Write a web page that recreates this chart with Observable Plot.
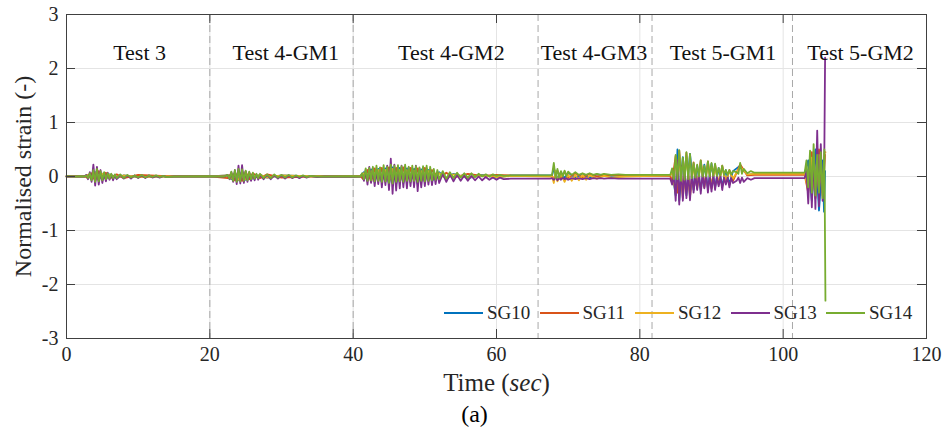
<!DOCTYPE html>
<html><head><meta charset="utf-8">
<script src="https://cdn.jsdelivr.net/npm/d3@7"></script>
<script src="https://cdn.jsdelivr.net/npm/@observablehq/plot@0.6"></script>
<style>
body{margin:0;background:#fff;}
#wrap{position:relative;width:947px;height:436px;font-family:"Liberation Serif",serif;}
#wrap svg{position:absolute;left:0;top:0;}
#legend{position:absolute;left:444px;top:302px;display:flex;font-size:19px;line-height:22px;color:#262626;}
.item{display:flex;align-items:center;width:95.5px;}
.sw{width:39px;height:0;border-top:2px solid;margin-right:4px;}
</style></head><body><div id="wrap"><div id="legend"></div></div>
<script>
// ---- data ----
const seriesNames = ["SG10","SG11","SG12","SG13","SG14"];
const seriesColors = ["#0072BD","#D95319","#EDB120","#7E2F8E","#77AC30"];
const xTicks = [0,20,40,60,80,100,120];
const yTicks = [-3,-2,-1,0,1,2,3];
const testBounds = [20,40,65.8,81.7,101.3];
const testLabels = ["Test 3","Test 4-GM1","Test 4-GM2","Test 4-GM3","Test 5-GM1","Test 5-GM2"];
const testLabelTimes = [10.2,30.6,53.7,73.6,91.6,110.8];
const testLabelLevel = 2.28;

const sg10 = [[0,0],[2.5,0],[3,.03],[3.5,-.05],[4,.08],[4.5,-.07],[5,.05],[5.5,-.05],[6,.04],[7,-.03],[8,.02],[10,-.01],[14,0],[20,0],
[22.5,.02],[23,-.05],[23.5,.07],[24,-.07],[24.5,.1],[25,-.06],[25.5,.06],[26,-.04],[27,.03],[28,-.02],[30,.02],[35,0],[41,0],
[41.5,.08],[42,-.08],[42.5,.13],[43,-.1],[43.5,.14],[44,-.1],[44.5,.15],[45,-.14],[45.5,.17],[46,-.14],[46.5,.16],[47,-.12],[47.5,.15],[48,-.1],[48.5,.14],[49,-.14],[49.5,.13],[50,-.1],[50.5,.12],[51,-.08],[52,.08],[53,-.05],[54,.05],[56,-.03],[58,.03],[60,-.02],[62,.02],[67.75,.02],
[68,.15],[68.5,-.04],[69,.08],[69.5,-.03],[70,.07],[71,-.02],[72,.05],[73,-.02],[74,.04],[76,.01],[78,.02],[84.25,.02],
[84.5,.1],[85,-.35],[85.25,.5],[85.5,-.45],[86,.36],[86.5,-.35],[87,.42],[87.5,-.25],[88,.2],[88.5,-.25],[89,.22],[89.5,-.22],[90,.24],[90.5,-.2],[91,.16],[91.5,-.18],[92,.12],[92.5,-.14],[93,.1],[94,.2],[95,.03],[96,.05],[103,.05],
[103.5,.3],[104,-.45],[104.5,.5],[105,-.63],[105.5,.3],[105.7,-.65],[105.85,.1]];

const sg11 = [[0,.005],[2.5,.005],[3,-.03],[3.5,.06],[4,-.08],[4.5,.1],[5,-.06],[5.5,.07],[6,-.04],[7,.04],[8,-.03],[10,.03],[14,.005],[20,.005],
[22.5,-.03],[23,.06],[23.5,-.07],[24,.1],[24.5,-.08],[25,.09],[25.5,-.05],[26,.06],[27,-.03],[28,.04],[30,-.02],[35,.005],[41,.005],
[41.5,-.06],[42,.12],[42.5,-.1],[43,.15],[43.5,-.08],[44,.16],[44.5,-.1],[45,.17],[45.5,-.12],[46,.16],[46.5,-.1],[47,.17],[47.5,-.1],[48,.16],[48.5,-.08],[49,.15],[49.5,-.1],[50,.16],[50.5,-.08],[51,.12],[52,-.04],[53,.07],[54,-.02],[56,.05],[58,.01],[60,.03],[62,.02],[67.75,.01],
[68,-.05],[68.5,.11],[69,-.04],[69.5,.09],[70,-.03],[71,.06],[72,-.02],[73,.05],[74,0],[76,.03],[78,.01],[84.25,.01],
[84.5,-.1],[85,.38],[85.25,-.3],[85.5,.48],[86,-.4],[86.5,.44],[87,-.38],[87.5,.26],[88,-.22],[88.5,.3],[89,-.2],[89.5,.28],[90,-.22],[90.5,.22],[91,-.15],[91.5,.2],[92,-.12],[92.5,.12],[93,-.08],[94,.22],[95,.02],[96,.03],[103,.03],
[103.5,-.3],[104,.45],[104.5,-.4],[105,.5],[105.5,-.3],[105.85,.4]];

const sg12 = [[0,0],[2.5,0],[3,.03],[3.5,-.05],[4,.07],[4.5,-.06],[5,.05],[5.5,-.04],[6,.03],[7,-.02],[8,.02],[10,-.01],[14,0],[20,0],
[22.5,.02],[23,-.04],[23.5,.06],[24,-.06],[24.5,.08],[25,-.05],[25.5,.05],[26,-.03],[27,.03],[28,-.02],[30,.02],[35,0],[41,0],
[41.5,.06],[42,-.06],[42.5,.1],[43,-.08],[43.5,.12],[44,-.08],[44.5,.12],[45,-.1],[45.5,.14],[46,-.1],[46.5,.12],[47,-.09],[47.5,.12],[48,-.08],[48.5,.11],[49,-.1],[49.5,.1],[50,-.08],[50.5,.1],[51,-.06],[52,.06],[53,-.04],[54,.04],[56,-.02],[58,.02],[60,-.01],[62,.01],[67.75,0],
[68,-.12],[68.25,.1],[68.5,-.09],[69,.05],[69.5,-.1],[70,.04],[70.5,-.08],[71,.03],[71.5,-.07],[72,.03],[72.5,-.06],[73,.02],[74,-.04],[75,.01],[76,-.02],[78,0],[84.25,.02],
[84.5,.08],[85,-.3],[85.5,.4],[86,-.32],[86.5,.36],[87,-.3],[87.5,.2],[88,-.18],[88.5,.24],[89,-.16],[89.5,.22],[90,-.16],[90.5,.18],[91,-.12],[91.5,.16],[92,-.08],[92.5,.1],[93,-.04],[94,.18],[95,.04],[96,.05],[103,.05],
[103.5,-.25],[104,.35],[104.5,-.4],[105,.4],[105.5,-.35],[105.8,.45],[105.9,.45]];

const sg13 = [[0,0],[1,0],[2,0],[2.5,0],[2.75,.03],[3,-.05],[3.25,.08],[3.5,-.1],[3.75,.22],[4,-.17],[4.25,.18],[4.5,-.15],[4.75,.12],[5,-.12],[5.25,.06],[5.5,-.09],[5.75,.07],[6,-.06],[6.25,.04],[6.5,-.07],[6.75,.03],[7,-.05],[7.5,.03],[8,-.04],[8.5,.02],[9,-.04],[9.5,.02],[10,-.03],[10.5,.02],[11,-.03],[11.5,.02],[12,-.02],[12.5,.01],[13,-.02],[13.5,.01],[14,-.01],[15,0],[20,0],
[22,0],[22.5,.03],[22.75,-.05],[23,.08],[23.25,-.1],[23.5,.12],[23.75,-.14],[24,.2],[24.25,-.13],[24.5,.21],[24.75,-.12],[25,.1],[25.25,-.1],[25.5,.08],[25.75,-.08],[26,.05],[26.25,-.07],[26.5,.04],[26.75,-.06],[27,.03],[27.5,-.05],[28,.03],[28.5,-.05],[29,.02],[29.5,-.04],[30,.02],[30.5,-.04],[31,.02],[31.5,-.03],[32,.01],[32.5,-.03],[33,.01],[33.5,-.02],[34,.01],[35,-.01],[36,0],[40,-.005],
[41,0],[41.25,.05],[41.5,-.08],[41.75,.12],[42,-.15],[42.25,.18],[42.5,-.12],[42.75,.15],[43,-.18],[43.25,.12],[43.5,-.14],[43.75,.16],[44,-.2],[44.25,.14],[44.5,-.16],[44.75,.2],[45,-.25],[45.25,.33],[45.5,-.32],[45.75,.22],[46,-.26],[46.25,.18],[46.5,-.22],[46.75,.2],[47,-.2],[47.25,.16],[47.5,-.22],[47.75,.17],[48,-.18],[48.25,.15],[48.5,-.2],[48.75,.2],[49,-.27],[49.25,.15],[49.5,-.2],[49.75,.14],[50,-.18],[50.25,.14],[50.5,-.15],[50.75,.12],[51,-.16],[51.25,.1],[51.5,-.14],[51.75,.08],[52,-.12],[52.5,.05],[53,-.1],[53.5,.04],[54,-.09],[54.5,.03],[55,-.08],[55.5,.02],[56,-.08],[56.5,.01],[57,-.07],[57.5,0],[58,-.07],[58.5,-.01],[59,-.06],[59.5,-.02],[60,-.06],[60.5,-.02],[61,-.05],[62,-.04],[65,-.04],[67.5,-.04],
[67.75,-.03],[68,-.06],[68.25,-.02],[68.5,-.07],[68.75,-.03],[69,-.06],[69.25,-.02],[69.5,-.05],[69.75,-.03],[70,-.06],[70.5,-.03],[71,-.05],[71.5,-.03],[72,-.05],[72.5,-.03],[73,-.05],[73.5,-.03],[74,-.04],[74.5,-.03],[75,-.04],[76,-.03],[77,-.04],[78,-.04],[84,-.04],
[84.25,-.04],[84.5,-.15],[84.75,.05],[85,-.45],[85.25,.3],[85.5,-.52],[85.75,.2],[86,-.45],[86.25,.15],[86.5,-.4],[86.75,.1],[87,-.44],[87.25,.1],[87.5,-.3],[87.75,.05],[88,-.25],[88.25,.08],[88.5,-.32],[88.75,.05],[89,-.22],[89.25,.06],[89.5,-.3],[89.75,.03],[90,-.28],[90.25,.02],[90.5,-.25],[90.75,0],[91,-.18],[91.25,0],[91.5,-.25],[91.75,-.02],[92,-.15],[92.25,-.02],[92.5,-.2],[92.75,-.03],[93,-.12],[93.5,-.08],[93.75,-.02],[94,-.12],[94.25,-.02],[94.5,-.1],[95,-.03],[95.5,-.06],[96,-.03],[97,-.03],[103,-.03],
[103.25,.1],[103.5,-.5],[103.75,.3],[104,-.57],[104.25,.45],[104.5,-.6],[104.75,.85],[105,-.55],[105.25,.6],[105.5,-.45],[105.7,-.3],[105.85,2.2]];

const sg14 = [[0,.005],[1,0],[2,.005],[2.5,0],[2.75,.02],[3,-.03],[3.25,.06],[3.5,-.07],[3.75,.12],[4,-.1],[4.25,.14],[4.5,-.09],[4.75,.1],[5,-.07],[5.25,.08],[5.5,-.05],[5.75,.06],[6,-.04],[6.25,.05],[6.5,-.03],[6.75,.04],[7,-.03],[7.5,.04],[8,-.03],[8.5,.03],[9,-.02],[9.5,.02],[10,-.02],[10.5,.03],[11,-.02],[11.5,.02],[12,-.01],[12.5,.02],[13,-.01],[13.5,.01],[14,-.01],[15,0],[20,.005],
[22,0],[22.5,.03],[22.75,-.04],[23,.09],[23.25,-.08],[23.5,.12],[23.75,-.1],[24,.14],[24.25,-.09],[24.5,.13],[24.75,-.08],[25,.11],[25.25,-.07],[25.5,.09],[25.75,-.05],[26,.07],[26.25,-.04],[26.5,.05],[26.75,-.03],[27,.05],[27.5,-.03],[28,.04],[28.5,-.03],[29,.04],[29.5,-.02],[30,.03],[30.5,-.02],[31,.03],[31.5,-.02],[32,.02],[32.5,-.01],[33,.02],[33.5,-.01],[34,.01],[35,0],[36,0],[40,.005],
[41,0],[41.25,.06],[41.5,-.05],[41.75,.15],[42,-.08],[42.25,.16],[42.5,-.07],[42.75,.18],[43,-.09],[43.25,.2],[43.5,-.08],[43.75,.17],[44,-.1],[44.25,.21],[44.5,-.09],[44.75,.18],[45,-.12],[45.25,.22],[45.5,-.13],[45.75,.2],[46,-.1],[46.25,.21],[46.5,-.09],[46.75,.19],[47,-.1],[47.25,.22],[47.5,-.08],[47.75,.18],[48,-.09],[48.25,.2],[48.5,-.08],[48.75,.19],[49,-.1],[49.25,.17],[49.5,-.08],[49.75,.19],[50,-.09],[50.25,.2],[50.5,-.08],[50.75,.18],[51,-.07],[51.25,.14],[51.5,-.06],[51.75,.12],[52,-.05],[52.5,.1],[53,-.04],[53.5,.08],[54,-.03],[54.5,.07],[55,-.02],[55.5,.06],[56,-.02],[56.5,.06],[57,-.01],[57.5,.05],[58,0],[58.5,.04],[59,0],[59.5,.04],[60,.01],[60.5,.03],[61,.01],[62,.02],[65,.02],[67.5,.02],
[67.75,.03],[68,.25],[68.25,-.03],[68.5,.14],[68.75,-.02],[69,.1],[69.25,0],[69.5,.11],[69.75,.01],[70,.09],[70.5,.03],[71,.08],[71.5,.03],[72,.06],[72.5,.03],[73,.06],[73.5,.03],[74,.05],[74.5,.03],[75,.05],[76,.03],[77,.04],[78,.03],[84,.03],
[84.25,.03],[84.5,.15],[84.75,-.05],[85,.4],[85.25,-.05],[85.5,.49],[85.75,-.08],[86,.35],[86.25,-.06],[86.5,.45],[86.75,-.05],[87,.42],[87.25,-.03],[87.5,.25],[87.75,-.02],[88,.22],[88.25,0],[88.5,.3],[88.75,0],[89,.2],[89.25,0],[89.5,.28],[89.75,0],[90,.25],[90.25,.01],[90.5,.24],[90.75,.01],[91,.16],[91.25,.02],[91.5,.2],[91.75,.03],[92,.12],[92.25,.03],[92.5,.12],[92.75,.04],[93,.1],[93.5,.08],[93.75,.05],[94,.25],[94.25,.05],[94.5,.14],[95,.06],[95.5,.1],[96,.07],[97,.07],[103,.07],
[103.25,.3],[103.5,-.2],[103.75,.48],[104,-.3],[104.25,.6],[104.5,-.35],[104.75,.4],[105,-.3],[105.25,.45],[105.5,-.4],[105.75,.5],[105.9,-2.3]];

const series = [sg10, sg11, sg12, sg13, sg14];
const xLabel = "Time (sec)";
const yLabel = "Normalised strain (-)";
const caption = "(a)";

// ---- layout ----
const W = 947, H = 436;
const mL = 66, mR = 21, mT = 14, mB = 98;
const innerW = W - mL - mR, innerH = H - mT - mB;
const tickLen = 9;
const font = "Liberation Serif";
const axisColor = "#404040";
const gridColor = "#e4e4e4";

const marks = [
  Plot.ruleY(yTicks, {stroke: gridColor}),
  Plot.ruleX(xTicks.slice(1, -1), {stroke: gridColor}),
  Plot.ruleX(testBounds, {stroke: "#a8a8a8", strokeDasharray: "7,4"}),
  ...series.map((s, i) => Plot.line(s, {x: d => d[0], y: d => d[1], stroke: seriesColors[i], strokeWidth: 1.8})),
  Plot.frame({stroke: axisColor}),
  Plot.ruleX(xTicks, {insetTop: innerH - tickLen, stroke: axisColor}),
  Plot.ruleX(xTicks, {insetBottom: innerH - tickLen, stroke: axisColor}),
  Plot.ruleY(yTicks, {insetRight: innerW - tickLen, stroke: axisColor}),
  Plot.ruleY(yTicks, {insetLeft: innerW - tickLen, stroke: axisColor}),
  Plot.axisX(xTicks, {anchor: "bottom", tickSize: 0, tickPadding: 8, tickFormat: d => String(d), label: null, fontSize: 20, fontFamily: font, fill: "#262626"}),
  Plot.axisY(yTicks, {anchor: "left", tickSize: 0, tickPadding: 8, tickFormat: d => String(d), label: null, fontSize: 20, fontFamily: font, fill: "#262626"}),
  Plot.text(testLabels, {x: (d, i) => testLabelTimes[i], y: () => testLabelLevel, text: d => d, fontSize: 22, fontFamily: font, fill: "#111"}),
  Plot.text([xLabel], {frameAnchor: "bottom", textAnchor: "middle", lineAnchor: "middle", text: d => d, dy: 44, fontSize: 25, fontFamily: font, fill: "#262626"}),
  Plot.text([yLabel], {frameAnchor: "left", textAnchor: "middle", lineAnchor: "middle", text: d => d, rotate: -90, dx: -43, fontSize: 24, fontFamily: font, fill: "#262626"}),
  Plot.text([caption], {frameAnchor: "bottom", textAnchor: "middle", lineAnchor: "middle", text: d => d, dy: 76, dx: -22, fontSize: 24, fontFamily: font, fill: "#000"})
];

const chart = Plot.plot({
  width: W, height: H,
  marginLeft: mL, marginRight: mR, marginTop: mT, marginBottom: mB,
  x: {domain: [0, 120]},
  y: {domain: [-3, 3]},
  style: {fontFamily: font, background: "#fff", overflow: "visible"},
  marks
});

// italic "sec" in the x label
chart.querySelectorAll("text").forEach(t => {
  if (t.textContent === xLabel) {
    t.textContent = "";
    const ns = "http://www.w3.org/2000/svg";
    ["Time (", "sec", ")"].forEach((s, i) => {
      const ts = document.createElementNS(ns, "tspan");
      ts.textContent = s;
      if (i === 1) ts.setAttribute("font-style", "italic");
      t.appendChild(ts);
    });
  }
});

const wrap = document.getElementById("wrap");
wrap.insertBefore(chart, wrap.firstChild);

const legend = document.getElementById("legend");
seriesNames.forEach((name, i) => {
  const item = document.createElement("div");
  item.className = "item";
  const sw = document.createElement("span");
  sw.className = "sw";
  sw.style.borderTopColor = seriesColors[i];
  const lab = document.createElement("span");
  lab.textContent = name;
  item.appendChild(sw); item.appendChild(lab);
  legend.appendChild(item);
});
</script></body></html>
